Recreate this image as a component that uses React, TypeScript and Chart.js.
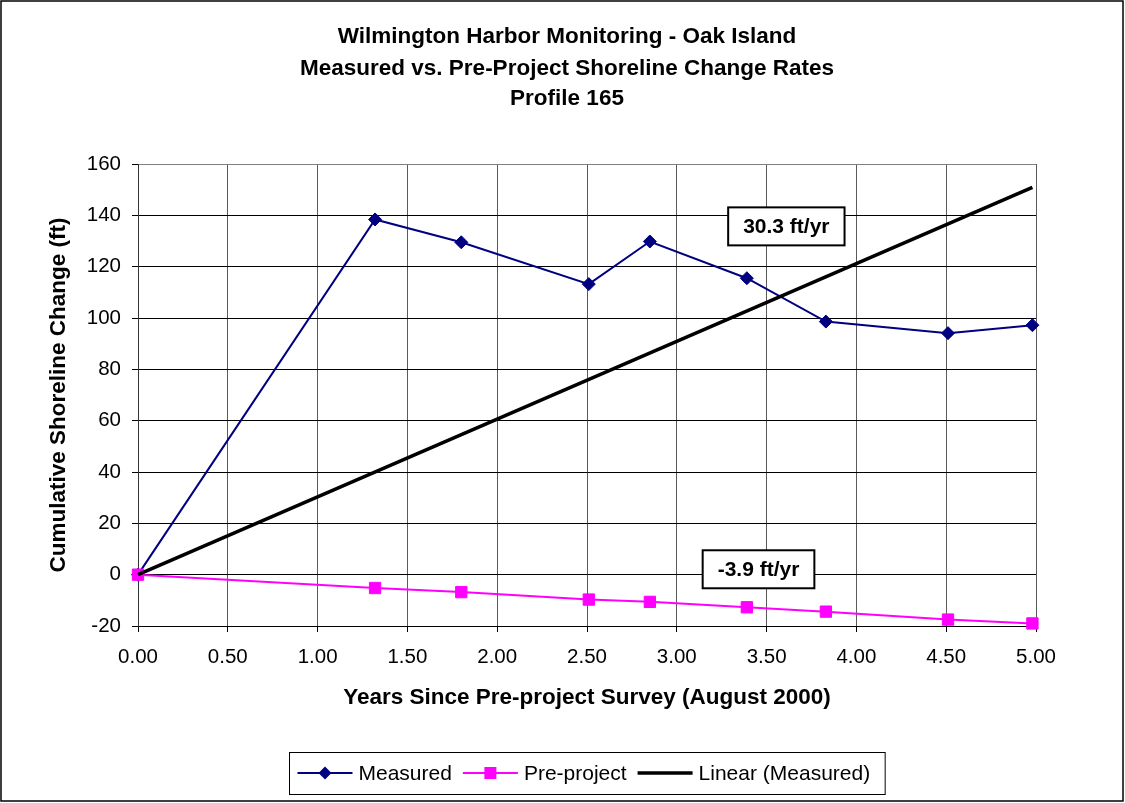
import React, { useEffect, useRef } from "react";
import { Chart, registerables } from "chart.js";

Chart.register(...registerables);

const titleLines = [
  "Wilmington Harbor Monitoring - Oak Island",
  "Measured vs. Pre-Project Shoreline Change Rates",
  "Profile 165",
];
const xAxisTitle = "Years Since Pre-project Survey (August 2000)";
const yAxisTitle = "Cumulative Shoreline Change (ft)";

const years = [0, 1.32, 1.8, 2.51, 2.85, 3.39, 3.83, 4.51, 4.98];
const measured = [0, 138.4, 129.5, 113.2, 129.8, 115.5, 98.6, 94.1, 97.2];
const preProject = [0, -5.2, -6.8, -9.7, -10.6, -12.7, -14.4, -17.5, -19.0];

const trendYears = [0, 4.98];
const trendValues = [0, 150.9];

const seriesNames = ["Measured", "Pre-project", "Linear (Measured)"];

const rateLabels = ["30.3 ft/yr", "-3.9 ft/yr"];
const rateLabelX = [3.61, 3.455];
const rateLabelY = [135.7, 2.1];

const FONT = "'Liberation Sans', Arial, sans-serif";

const toPoints = (xs: number[], ys: number[]) => xs.map((x, i) => ({ x, y: ys[i] }));

const framePlugin = {
  id: "frame",
  beforeDraw(chart: any) {
    const { ctx, width, height } = chart;
    ctx.save();
    ctx.fillStyle = "#fff";
    ctx.fillRect(0, 0, width, height);
    // title
    ctx.fillStyle = "#000";
    ctx.font = `bold 22.5px ${FONT}`;
    ctx.textAlign = "center";
    ctx.textBaseline = "middle";
    const titleY = [37, 68.5, 98.5];
    titleLines.forEach((t, i) => ctx.fillText(t, 567, titleY[i]));
    ctx.restore();
  },
  afterDraw(chart: any) {
    const { ctx, width, height, chartArea } = chart;
    ctx.save();
    // outer border
    ctx.strokeStyle = "#000";
    ctx.lineWidth = 1.5;
    ctx.strokeRect(1, 1, width - 3, height - 3);

    // legend
    ctx.font = `21px ${FONT}`;
    const lineLen = 55;
    const gapText = 6;
    const gapItem = 11;
    const padL = 8;
    const padR = 15;
    const widths = seriesNames.map((n) => ctx.measureText(n).width);
    let total = padL + padR;
    widths.forEach((w, i) => {
      total += lineLen + gapText + w + (i < widths.length - 1 ? gapItem : 0);
    });
    const cx = (chartArea.left + chartArea.right) / 2;
    const boxTop = 752;
    const boxH = 42;
    const boxLeft = Math.round(cx - total / 2) + 0.5;
    ctx.fillStyle = "#fff";
    ctx.fillRect(boxLeft, boxTop, total, boxH);
    ctx.strokeStyle = "#000";
    ctx.lineWidth = 1;
    ctx.strokeRect(boxLeft, boxTop + 0.5, total, boxH);
    const cy = boxTop + boxH / 2;
    let x = boxLeft + padL;
    const colors = ["#000080", "#FF00FF", "#000"];
    seriesNames.forEach((name, i) => {
      ctx.strokeStyle = colors[i];
      ctx.fillStyle = colors[i];
      ctx.lineWidth = i === 2 ? 3.5 : 2;
      ctx.beginPath();
      ctx.moveTo(x, cy);
      ctx.lineTo(x + lineLen, cy);
      ctx.stroke();
      const mx = x + lineLen / 2;
      if (i === 0) {
        ctx.beginPath();
        ctx.moveTo(mx - 6.5, cy);
        ctx.lineTo(mx, cy - 6.5);
        ctx.lineTo(mx + 6.5, cy);
        ctx.lineTo(mx, cy + 6.5);
        ctx.closePath();
        ctx.fill();
      } else if (i === 1) {
        ctx.fillRect(mx - 6, cy - 6, 12, 12);
      }
      x += lineLen + gapText;
      ctx.fillStyle = "#000";
      ctx.textAlign = "left";
      ctx.textBaseline = "middle";
      ctx.fillText(name, x, cy + 1);
      x += widths[i] + gapItem;
    });
    ctx.restore();
  },
  afterDatasetsDraw(chart: any) {
    const { ctx, scales } = chart;
    ctx.save();
    ctx.font = `bold 21px ${FONT}`;
    rateLabels.forEach((label, i) => {
      const px = scales.x.getPixelForValue(rateLabelX[i]);
      const py = scales.y.getPixelForValue(rateLabelY[i]);
      const tw = ctx.measureText(label).width;
      const w = tw + 30;
      const h = 38;
      ctx.fillStyle = "#fff";
      ctx.fillRect(px - w / 2, py - h / 2, w, h);
      ctx.strokeStyle = "#000";
      ctx.lineWidth = 2;
      ctx.strokeRect(px - w / 2, py - h / 2, w, h);
      ctx.fillStyle = "#000";
      ctx.textAlign = "center";
      ctx.textBaseline = "middle";
      ctx.fillText(label, px, py + 1);
    });
    ctx.restore();
  },
};

export default function App() {
  const canvasRef = useRef<HTMLCanvasElement | null>(null);

  useEffect(() => {
    document.body.style.margin = "0";
    const canvas = canvasRef.current;
    if (!canvas) return;
    const chart = new Chart(canvas, {
      type: "scatter",
      data: {
        datasets: [
          {
            label: seriesNames[0],
            data: toPoints(years, measured),
            showLine: true,
            borderColor: "#000080",
            backgroundColor: "#000080",
            borderWidth: 2,
            pointStyle: "rectRot",
            pointRadius: 6.5,
            pointBorderWidth: 1,
            pointBackgroundColor: "#000080",
            pointBorderColor: "#000080",
            clip: false,
            order: 2,
          },
          {
            label: seriesNames[1],
            data: toPoints(years, preProject),
            showLine: true,
            borderColor: "#FF00FF",
            backgroundColor: "#FF00FF",
            borderWidth: 2,
            pointStyle: "rect",
            pointRadius: 8,
            pointBorderWidth: 1,
            pointBackgroundColor: "#FF00FF",
            pointBorderColor: "#FF00FF",
            clip: false,
            order: 1,
          },
          {
            label: seriesNames[2],
            data: toPoints(trendYears, trendValues),
            showLine: true,
            borderColor: "#000",
            backgroundColor: "#000",
            borderWidth: 3.5,
            pointRadius: 0,
            clip: false,
            order: 0,
          },
        ],
      },
      options: {
        animation: false,
        responsive: false,
        maintainAspectRatio: false,
        layout: { padding: { left: 0, right: 89, top: 164, bottom: 92 } },
        plugins: {
          legend: { display: false },
          tooltip: { enabled: false },
          title: { display: false },
        },
        scales: {
          x: {
            type: "linear",
            min: 0,
            max: 5,
            afterFit: (scale: any) => {
              scale.height = 85;
            },
            ticks: {
              stepSize: 0.5,
              color: "#000",
              font: { family: FONT, size: 20.5 },
              padding: 13,
              maxRotation: 0,
              callback: (v: any) => Number(v).toFixed(2),
            },
            grid: {
              color: "#5a5a5a",
              lineWidth: 1,
              tickLength: 6,
              tickColor: "#000",
            },
            border: { display: true, color: "#000", width: 1 },
            title: {
              display: true,
              text: xAxisTitle,
              color: "#000",
              font: { family: FONT, size: 22.5, weight: "bold" },
              padding: { top: 0, bottom: 0 },
            },
          },
          y: {
            type: "linear",
            min: -20,
            max: 160,
            afterFit: (scale: any) => {
              scale.width = 138;
            },
            ticks: {
              stepSize: 20,
              color: "#000",
              font: { family: FONT, size: 20.5 },
              padding: 11,
            },
            grid: {
              color: (c: any) => (c.tick && c.tick.value === 160 ? "#808080" : "#000"),
              lineWidth: 1,
              tickLength: 6,
              tickColor: "#000",
            },
            border: { display: true, color: "#333", width: 1 },
            title: {
              display: true,
              text: yAxisTitle,
              color: "#000",
              font: { family: FONT, size: 22.5, weight: "bold" },
              padding: { top: 45, bottom: 0 },
            },
          },
        },
      },
      plugins: [framePlugin],
    });
    return () => chart.destroy();
  }, []);

  return (
    <div style={{ width: 1125, height: 803 }}>
      <canvas
        ref={canvasRef}
        width={1125}
        height={803}
        style={{ display: "block", width: 1125, height: 803 }}
      />
    </div>
  );
}
